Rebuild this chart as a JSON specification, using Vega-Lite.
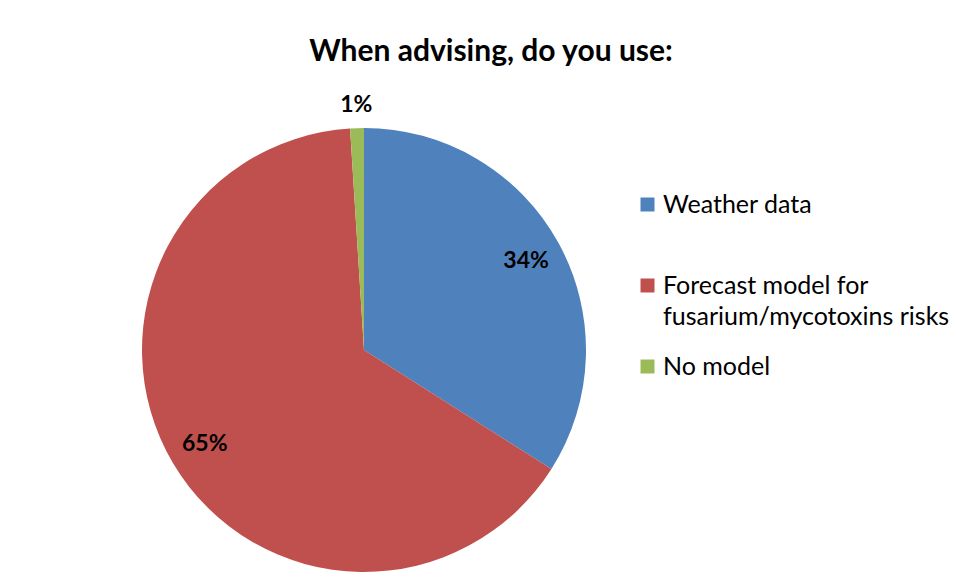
{
  "$schema": "https://vega.github.io/schema/vega-lite/v6.json",
  "width": 444,
  "height": 446,
  "autosize": {"type": "none"},
  "padding": {"left": 142, "top": 127, "right": 370, "bottom": 8},
  "background": "white",
  "config": {"view": {"stroke": null}, "font": "Lato", "style": {"guide-label": {"lineHeight": 31}}},
  "title": {
    "text": "When advising, do you use:",
    "fontSize": 30,
    "fontWeight": "bold",
    "font": "Lato",
    "color": "#000000",
    "anchor": "middle",
    "frame": "group",
    "dx": 127,
    "baseline": "alphabetic",
    "offset": 3
  },
  "data": {
    "values": [
      {"category": "Weather data", "share": 0.34, "rank": 1},
      {"category": "Forecast model for fusarium/mycotoxins risks", "share": 0.65, "rank": 2},
      {"category": "No model", "share": 0.01, "rank": 3}
    ]
  },
  "encoding": {
    "theta": {"field": "share", "type": "quantitative", "stack": true},
    "order": {"field": "rank", "type": "quantitative"}
  },
  "layer": [
    {
      "mark": {"type": "arc"},
      "encoding": {
        "color": {
          "field": "category",
          "type": "nominal",
          "scale": {
            "domain": ["Weather data", "Forecast model for fusarium/mycotoxins risks", "No model"],
            "range": ["#4F81BD", "#C0504D", "#9BBB59"]
          },
          "legend": {
            "orient": "none",
            "legendX": 493,
            "legendY": 65,
            "title": null,
            "symbolType": "square",
            "symbolSize": 196,
            "symbolStrokeWidth": 0,
            "labelFont": "Lato",
            "labelFontSize": 25,
            "labelColor": "#000000",
            "labelLimit": 400,
            "labelOffset": 3,
            "rowPadding": 24,
            "labelExpr": "datum.label == 'Forecast model for fusarium/mycotoxins risks' ? ['Forecast model for', 'fusarium/mycotoxins risks'] : datum.label == 'Weather data' ? ['Weather data', ''] : datum.label"
          }
        }
      }
    },
    {
      "mark": {"type": "text", "radius": 185, "fontSize": 23, "fontWeight": "bold", "font": "Lato", "color": "#000000"},
      "encoding": {
        "text": {"field": "share", "type": "quantitative", "format": ".0%", "condition": {"test": "datum.share < 0.05", "value": ""}}
      }
    },
    {
      "mark": {"type": "text", "radius": 245, "fontSize": 23, "fontWeight": "bold", "font": "Lato", "color": "#000000"},
      "encoding": {
        "text": {"field": "share", "type": "quantitative", "format": ".0%", "condition": {"test": "datum.share >= 0.05", "value": ""}}
      }
    }
  ]
}
